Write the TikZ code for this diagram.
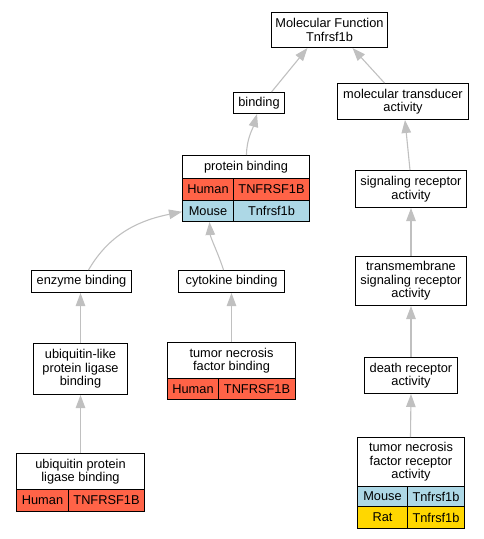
\documentclass[tikz,border=0pt]{standalone}
\usepackage{fontspec}
\setmainfont{Liberation Sans}
\usetikzlibrary{arrows.meta}
\definecolor{human}{HTML}{FF6347}
\definecolor{mouse}{HTML}{ADD8E6}
\definecolor{rat}{HTML}{FFD700}
\definecolor{edgec}{HTML}{C0C0C0}
\tikzset{
  gobox/.style={draw=black, line width=1pt, fill=white, inner sep=0pt, align=center, anchor=north west,
    font=\fontsize{12.8}{13.6}\selectfont},
  gocell/.style={gobox, fill=#1},
  edge/.style={draw=edgec, line width=1.1pt, -{Triangle[length=13pt,width=9.5pt]}},
}
\begin{document}
\begin{tikzpicture}[x=1pt,y=-1pt]
\useasboundingbox (0,0) rectangle (484,539);
% nodes
\node[gobox, minimum width=116, minimum height=35] (mf) at (271,12) {Molecular Function\\Tnfrsf1b};
\node[gobox, minimum width=51, minimum height=21] (bind) at (233,92) {binding};
\node[gobox, minimum width=131, minimum height=36] (mtr) at (337,83) {molecular transducer\\activity};
\node[gobox, minimum width=127, minimum height=23] (pbt) at (182,155) {protein binding};
\node[gocell=human, minimum width=51, minimum height=21.5] (pbh1) at (182,178) {Human};
\node[gocell=human, minimum width=76, minimum height=21.5] (pbh2) at (233,178) {TNFRSF1B};
\node[gocell=mouse, minimum width=51, minimum height=21.5] (pbm1) at (182,199.5) {Mouse};
\node[gocell=mouse, minimum width=76, minimum height=21.5] (pbm2) at (233,199.5) {Tnfrsf1b};
\node[gobox, minimum width=111, minimum height=37] (sra) at (355,170) {signaling receptor\\activity};
\node[gobox, minimum width=100, minimum height=22] (eb) at (31,270) {enzyme binding};
\node[gobox, minimum width=106, minimum height=22] (cb) at (178,270) {cytokine binding};
\node[gobox, minimum width=111, minimum height=49] (tmsra) at (355,256) {transmembrane\\signaling receptor\\activity};
\node[gobox, minimum width=94, minimum height=51] (ubl) at (33,343) {ubiquitin-like\\protein ligase\\binding};
\node[gobox, minimum width=128, minimum height=36] (tnfbt) at (167,342) {tumor necrosis\\factor binding};
\node[gocell=human, minimum width=51, minimum height=21] (tnfbh1) at (167,378) {Human};
\node[gocell=human, minimum width=77, minimum height=21] (tnfbh2) at (218,378) {TNFRSF1B};
\node[gobox, minimum width=93, minimum height=36] (dra) at (364,357) {death receptor\\activity};
\node[gobox, minimum width=128, minimum height=36] (uplt) at (16,453) {ubiquitin protein\\ligase binding};
\node[gocell=human, minimum width=52, minimum height=22] (uplh1) at (16,489) {Human};
\node[gocell=human, minimum width=76, minimum height=22] (uplh2) at (68,489) {TNFRSF1B};
\node[gobox, minimum width=107, minimum height=49] (tnfrt) at (357,437) {tumor necrosis\\factor receptor\\activity};
\node[gocell=mouse, minimum width=50, minimum height=20] (tnfrm1) at (357,486) {Mouse};
\node[gocell=mouse, minimum width=57, minimum height=20] (tnfrm2) at (407,486) {Tnfrsf1b};
\node[gocell=rat, minimum width=50, minimum height=22] (tnfrr1) at (357,506) {Rat};
\node[gocell=rat, minimum width=57, minimum height=22] (tnfrr2) at (407,506) {Tnfrsf1b};
% edges
\draw[edge] ([xshift=12.5]bind.north) -- ([xshift=-22]mf.south);
\draw[edge] ([xshift=-18.5]mtr.north) -- ([xshift=23]mf.south);
\draw[edge] ([xshift=0.5]pbt.north) .. controls +(0,-16) and +(-4,14) .. ([xshift=-2]bind.south);
\draw[edge] ([xshift=-1]sra.north) -- ([xshift=2]mtr.south);
\draw[edge] ([xshift=7]eb.north) .. controls +(22,-38) and +(-40,8) .. ([yshift=-1]pbm1.west);
\draw[edge] ([xshift=-8]cb.north) .. controls +(-5,-16) and +(1,16) .. ([xshift=1.5]pbm1.south);
\draw[edge] (tmsra.north) -- (sra.south);
\draw[edge] (ubl.north) -- ([xshift=-1]eb.south);
\draw[edge] (tnfbt.north) -- (cb.south);
\draw[edge] (dra.north) -- (tmsra.south);
\draw[edge] (uplt.north) -- (ubl.south);
\draw[edge] ([xshift=-0.5]tnfrt.north) -- (dra.south);
\end{tikzpicture}
\end{document}
